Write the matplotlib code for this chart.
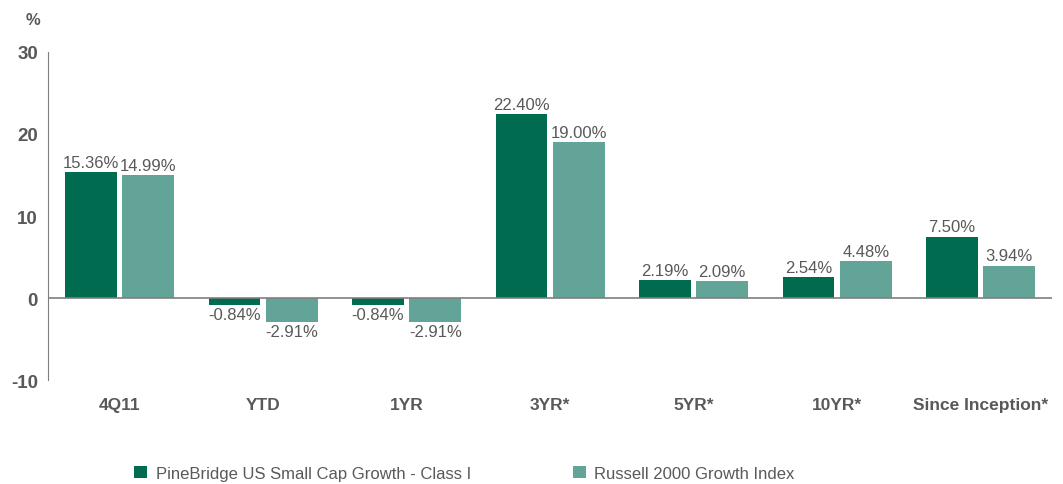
import matplotlib.pyplot as plt
import numpy as np

categories = ['4Q11', 'YTD', '1YR', '3YR*', '5YR*', '10YR*', 'Since Inception*']
fund = [15.36, -0.84, -0.84, 22.40, 2.19, 2.54, 7.50]
index = [14.99, -2.91, -2.91, 19.00, 2.09, 4.48, 3.94]
series_names = ['PineBridge US Small Cap Growth - Class I', 'Russell 2000 Growth Index']

dark = '#006B4F'
light = '#62A497'
grey = '#595959'

plt.rcParams['font.family'] = ['Liberation Sans', 'DejaVu Sans']
plt.rcParams['axes.unicode_minus'] = False

fig = plt.figure(figsize=(10.63, 4.85), dpi=100)
ax = fig.add_axes([0.045, 0.214, 0.945, 0.677])

x = np.arange(len(categories))
w = 0.36
b1 = ax.bar(x - 0.2, fund, w, color=dark, label=series_names[0])
b2 = ax.bar(x + 0.2, index, w, color=light, label=series_names[1])

# value labels: above positive bars, below negative ones
for bars, vals in [(b1, fund), (b2, index)]:
    for bar, v in zip(bars, vals):
        cx = bar.get_x() + bar.get_width() / 2
        if v >= 0:
            ax.text(cx, v + 0.3, f'{v:.2f}%', ha='center', va='bottom',
                    fontsize=12, color=grey)
        else:
            ax.text(cx, v - 0.3, f'{v:.2f}%', ha='center', va='top',
                    fontsize=12, color=grey)

ax.set_xlim(-0.5, len(categories) - 0.5)
ax.set_ylim(-10, 30)
ax.set_yticks([-10, 0, 10, 20, 30])
ax.set_xticks(x)
ax.set_xticklabels(categories, fontsize=12.5, fontweight='bold', color=grey)
for lab in ax.get_yticklabels():
    lab.set_fontsize(13.5)
    lab.set_fontweight('bold')
    lab.set_color(grey)

ax.tick_params(axis='both', length=0)
ax.tick_params(axis='x', pad=12)
ax.tick_params(axis='y', pad=7)
for s in ['top', 'right', 'bottom']:
    ax.spines[s].set_visible(False)
ax.spines['left'].set_color('#7f7f7f')
ax.axhline(0, color='#7f7f7f', lw=1.2)

fig.text(0.031, 0.958, '%', fontsize=12, fontweight='bold', color=grey, ha='center', va='center')

leg = fig.legend(handles=[b1, b2], loc='center left', bbox_to_anchor=(0.112, 0.022),
                 ncol=2, frameon=False, fontsize=12, handlelength=0.8, handleheight=0.8,
                 columnspacing=6.1, handletextpad=0.5)
for t in leg.get_texts():
    t.set_color(grey)

fig.savefig('out.png', dpi=100)
